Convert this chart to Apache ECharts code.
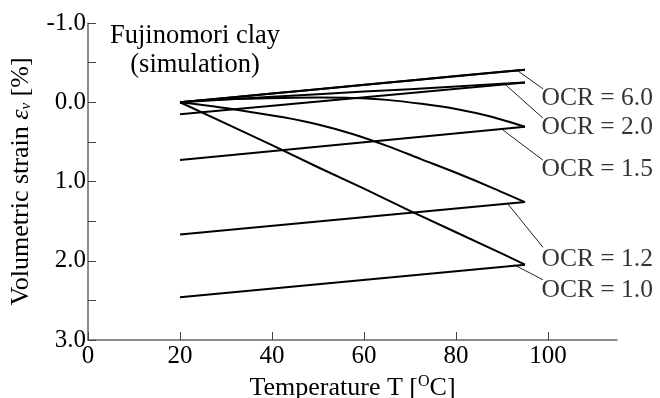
<!DOCTYPE html>
<html>
<head>
<meta charset="utf-8">
<script src="https://cdn.jsdelivr.net/npm/echarts@6/dist/echarts.min.js"></script>
<style>html,body{margin:0;padding:0;background:#fff}#c{width:660px;height:398px}</style>
</head>
<body>
<div id="c"></div>
<script>
// Temperatures used along heating paths [°C]
const heatT = [20, 30, 40, 50, 60, 70, 80, 90, 95];
const heatTfine = [20, 27.5, 35, 42.5, 50, 57.5, 65, 72.5, 80, 87.5, 95];
// Heating paths (volumetric strain %)
const heatOCR60 = [0, -0.055, -0.11, -0.165, -0.22, -0.275, -0.33, -0.385, -0.41];
const heatOCR20 = [0, -0.035, -0.07, -0.10, -0.135, -0.165, -0.20, -0.235, -0.25];
const heatOCR15 = [0, -0.03, -0.045, -0.055, -0.06, -0.055, -0.03, 0.02, 0.085, 0.18, 0.31];
const heatOCR12 = [0, 0.055, 0.12, 0.19, 0.28, 0.40, 0.55, 0.72, 0.89, 1.07, 1.26];
const heatOCR10 = [0, 0.27, 0.54, 0.82, 1.09, 1.37, 1.64, 1.91, 2.05];
// Cooling paths: [T at start, T at end], strain at start/end
const coolT = [95, 20];
const coolOCR60 = [-0.41, 0.0];
const coolOCR20 = [-0.25, 0.15];
const coolOCR15 = [0.31, 0.73];
const coolOCR12 = [1.26, 1.67];
const coolOCR10 = [2.05, 2.46];
// Labels
const ocrLabels = ['OCR = 6.0', 'OCR = 2.0', 'OCR = 1.5', 'OCR = 1.2', 'OCR = 1.0'];
const labelT = [98.6, 98.6, 98.6, 98.6, 98.6];
const labelE = [-0.05, 0.31, 0.84, 1.98, 2.37];
const leaderFrom = [[93.1, -0.41], [90.4, -0.24], [90.2, 0.35], [91.1, 1.27], [92.6, 2.05]];
const leaderTo = [[98.9, -0.17], [98.9, 0.20], [98.9, 0.73], [98.9, 1.83], [98.9, 2.24]];
const xTicks = [0, 20, 40, 60, 80, 100];
const yTicks = [-1, -0.5, 0, 0.5, 1, 1.5, 2, 2.5, 3];

const FONT = '"Liberation Serif", "DejaVu Serif", serif';
const zip = (xs, ys) => xs.map((x, i) => [x, ys[i]]);
const lineStyle = { color: '#000', width: 2, join: 'round' };
function curve(name, xs, ys, smooth) {
  return { name, type: 'line', data: zip(xs, ys), showSymbol: false, symbol: 'none',
    smooth: smooth ? 0.3 : false, lineStyle, silent: true, z: 3 };
}
const series = [
  curve('h6', heatT, heatOCR60), curve('c6', coolT, coolOCR60),
  curve('h2', heatT, heatOCR20), curve('c2', coolT, coolOCR20),
  curve('h15', heatTfine, heatOCR15, true), curve('c15', coolT, coolOCR15),
  curve('h12', heatTfine, heatOCR12, true), curve('c12', coolT, coolOCR12),
  curve('h10', heatT, heatOCR10), curve('c10', coolT, coolOCR10),
  { type: 'lines', coordinateSystem: 'cartesian2d', silent: true,
    lineStyle: { color: '#222', width: 1, opacity: 1 },
    data: leaderFrom.map((f, i) => ({ coords: [f, leaderTo[i]] })) },
  { type: 'scatter', symbolSize: 0, silent: true,
    data: ocrLabels.map((t, i) => [labelT[i], labelE[i], t]),
    label: { show: true, position: 'right', distance: 0, formatter: p => p.value[2],
      color: '#000', fontFamily: FONT, fontSize: 25.5 } }
];

const chart = echarts.init(document.getElementById('c'), null, { renderer: 'canvas' });
chart.setOption({
  animation: false,
  backgroundColor: '#fff',
  grid: { left: 88, right: 43, top: 23, bottom: 58, containLabel: false, outerBoundsMode: 'none' },
  xAxis: {
    type: 'value', min: 0, max: 115, interval: 20,
    name: 'Temperature T [{sup|O}C]', nameLocation: 'middle', nameGap: 28,
    nameTextStyle: { color: '#000', fontFamily: FONT, fontSize: 26,
      rich: { sup: { fontSize: 16, fontFamily: FONT, color: '#000', verticalAlign: 'top', padding: [0, 0, 12, 0] } } },
    axisLine: { onZero: false, lineStyle: { color: '#666', width: 1.5 } },
    axisTick: { inside: true, length: 8, lineStyle: { color: '#444' }, customValues: xTicks },
    axisLabel: { customValues: xTicks, color: '#000', fontFamily: FONT, fontSize: 25, margin: 4 },
    splitLine: { show: false }
  },
  yAxis: {
    type: 'value', min: -1, max: 3, interval: 0.5, inverse: true,
    name: 'Volumetric strain {eps|ε}{sub|v} [%]', nameLocation: 'middle', nameGap: 54,
    nameTextStyle: { color: '#000', fontFamily: FONT, fontSize: 26,
      rich: { eps: { fontStyle: 'italic', fontFamily: FONT, fontSize: 26, color: '#000' },
              sub: { fontSize: 15, fontStyle: 'italic', fontFamily: FONT, color: '#000', verticalAlign: 'bottom', padding: [10, 0, 0, 0] } } },
    axisLine: { show: true, onZero: false, lineStyle: { color: '#666', width: 1.5 } },
    axisTick: { show: true, inside: true, length: 8, lineStyle: { color: '#444' }, customValues: yTicks },
    axisLabel: { color: '#000', fontFamily: FONT, fontSize: 25, margin: 2,
      formatter: v => (Math.abs(v - Math.round(v)) < 1e-9 ? v.toFixed(1) : '') },
    splitLine: { show: false }
  },
  graphic: [{
    type: 'text', left: 110, top: 22,
    style: { text: 'Fujinomori clay\n(simulation)', fill: '#000', font: '26.5px ' + FONT,
      textAlign: 'center', lineHeight: 29 }
  }],
  series
});
</script>
</body>
</html>
